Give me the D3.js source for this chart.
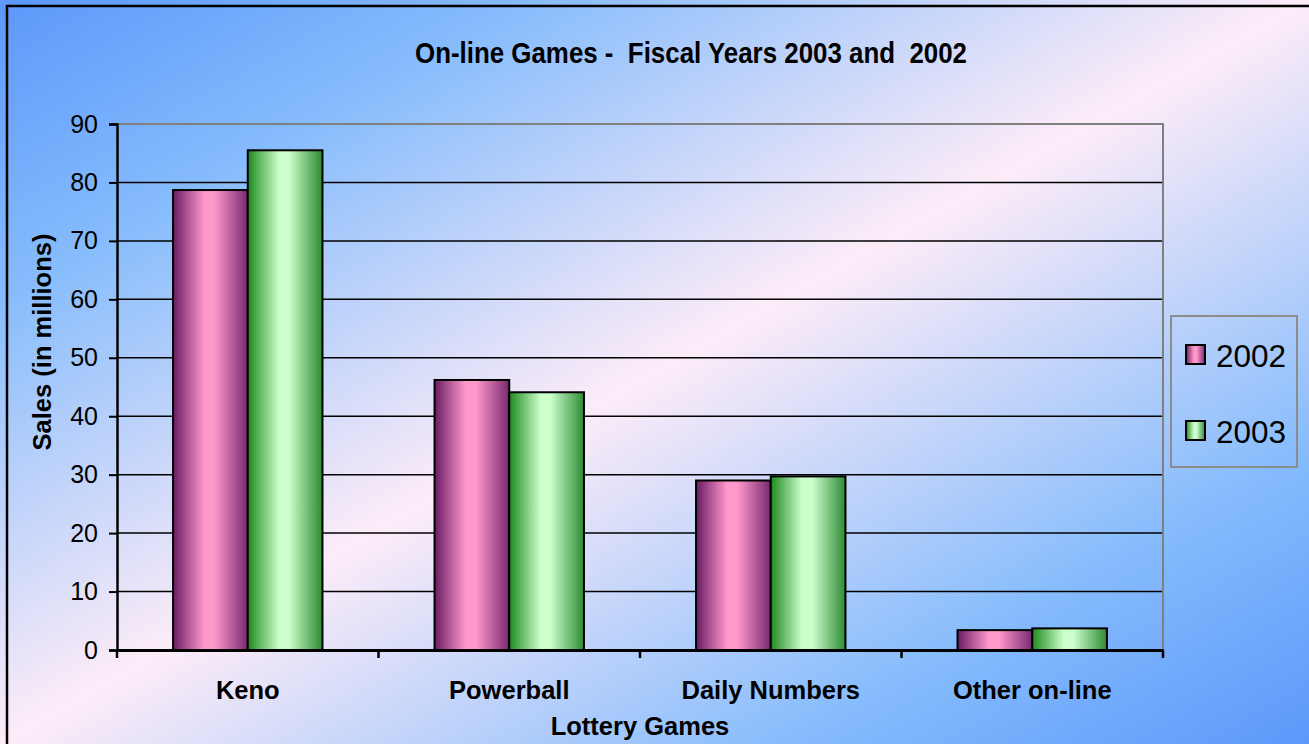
<!DOCTYPE html>
<html>
<head>
<meta charset="utf-8">
<script src="https://cdn.jsdelivr.net/npm/d3@7"></script>
<style>
  body { margin: 0; overflow: hidden; }
  svg { display: block; font-family: "Liberation Sans", Arial, sans-serif; }
</style>
</head>
<body>
<svg width="1309" height="744"></svg>
<script>
const categories = ['Keno', 'Powerball', 'Daily Numbers', 'Other on-line'];
const years = ['2002', '2003'];
const sales2002 = [78.7, 46.2, 29.0, 3.4];
const sales2003 = [85.5, 44.1, 29.7, 3.7];
const yTicks = [0, 10, 20, 30, 40, 50, 60, 70, 80, 90];

const svg = d3.select('svg');
const defs = svg.append('defs');

// background gradient: blue corners, pink diagonal band
const bg = defs.append('linearGradient').attr('id', 'bg')
    .attr('x1', 0).attr('y1', 0).attr('x2', 1).attr('y2', 1);
[[0, '#5c98fa'], [0.2, '#86bcfc'], [0.5, '#fdecf8'], [0.8, '#86bcfc'], [1, '#5c98fa']]
    .forEach(s => bg.append('stop').attr('offset', s[0]).attr('stop-color', s[1]));

function barGrad(id, edgeL, mid, edgeR) {
    const g = defs.append('linearGradient').attr('id', id)
        .attr('x1', 0).attr('y1', 0).attr('x2', 1).attr('y2', 0);
    g.append('stop').attr('offset', 0).attr('stop-color', edgeL);
    g.append('stop').attr('offset', 0.42).attr('stop-color', mid);
    g.append('stop').attr('offset', 0.55).attr('stop-color', mid);
    g.append('stop').attr('offset', 1).attr('stop-color', edgeR);
}
barGrad('g2002', '#6a1b63', '#ff99cc', '#7a2870');
barGrad('g2003', '#1e8a1e', '#ccffcc', '#2e8b34');

svg.append('rect').attr('x', 0).attr('y', 0).attr('width', 1309).attr('height', 744)
    .attr('fill', 'url(#bg)');
svg.append('rect').attr('x', 7).attr('y', 6).attr('width', 1320).attr('height', 760)
    .attr('fill', 'none').attr('stroke', '#000').attr('stroke-width', 2.5);

const plotLeft = 117, plotRight = 1163, plotTop = 124, plotBottom = 650;

const x = d3.scaleBand().domain(categories).range([plotLeft, plotRight]);
const xSub = d3.scaleBand().domain(years).range([0, x.bandwidth()])
    .paddingInner(0).paddingOuter(0.75);
const y = d3.scaleLinear().domain([0, 90]).range([plotBottom, plotTop]);

// grid
svg.append('g').selectAll('line').data(yTicks.filter(d => d > 0 && d < 90))
    .enter().append('line')
    .attr('x1', plotLeft).attr('x2', plotRight)
    .attr('y1', d => y(d)).attr('y2', d => y(d))
    .attr('stroke', '#000').attr('stroke-width', 1.5);

// plot border top / right
svg.append('path')
    .attr('d', `M${plotLeft},${plotTop}H${plotRight}V${plotBottom}`)
    .attr('fill', 'none').attr('stroke', '#808080').attr('stroke-width', 2);

// bars
const series = [
    { year: '2002', values: sales2002 },
    { year: '2003', values: sales2003 }
];
series.forEach(s => {
    svg.append('g').selectAll('rect').data(categories)
        .enter().append('rect')
        .attr('x', (c) => x(c) + xSub(s.year))
        .attr('y', (c, i) => y(s.values[i]))
        .attr('width', xSub.bandwidth())
        .attr('height', (c, i) => plotBottom - y(s.values[i]))
        .attr('fill', `url(#g${s.year})`)
        .attr('stroke', '#000').attr('stroke-width', 2);
});

// y axis
const yAxis = svg.append('g').attr('transform', `translate(${plotLeft},0)`)
    .call(d3.axisLeft(y).tickValues(yTicks).tickSize(8).tickPadding(11));
yAxis.select('.domain').attr('stroke', '#000').attr('stroke-width', 2.5);
yAxis.selectAll('.tick line').attr('stroke', '#000').attr('stroke-width', 2);
yAxis.selectAll('.tick text').attr('font-size', 25).attr('fill', '#000')
    .attr('font-family', '"Liberation Sans", Arial, sans-serif');

// x axis
const xAxis = svg.append('g').attr('transform', `translate(0,${plotBottom})`)
    .call(d3.axisBottom(x).tickSize(0).tickPadding(31));
xAxis.select('.domain').attr('stroke', '#000').attr('stroke-width', 3);
xAxis.selectAll('.tick text').attr('font-size', 25.5).attr('font-weight', 'bold')
    .attr('fill', '#000').attr('font-family', '"Liberation Sans", Arial, sans-serif');
svg.append('g').selectAll('line')
    .data(categories.map(c => x(c)).concat([plotRight]))
    .enter().append('line')
    .attr('x1', d => d).attr('x2', d => d)
    .attr('y1', plotBottom).attr('y2', plotBottom + 8)
    .attr('stroke', '#000').attr('stroke-width', 2.5);

// titles
svg.append('text')
    .attr('x', 691).attr('y', 63)
    .attr('text-anchor', 'middle')
    .attr('font-size', 30).attr('font-weight', 'bold')
    .attr('textLength', 552).attr('lengthAdjust', 'spacingAndGlyphs')
    .style('white-space', 'pre')
    .text('On-line Games -  Fiscal Years 2003 and  2002');

svg.append('text')
    .attr('x', (plotLeft + plotRight) / 2).attr('y', 735)
    .attr('text-anchor', 'middle')
    .attr('font-size', 25.5).attr('font-weight', 'bold')
    .text('Lottery Games');

svg.append('text')
    .attr('transform', `translate(51,${(plotTop + plotBottom) / 2 - 45}) rotate(-90)`)
    .attr('text-anchor', 'middle')
    .attr('font-size', 25.5).attr('font-weight', 'bold')
    .text('Sales (in millions)');

// legend
const legend = svg.append('g');
legend.append('rect')
    .attr('x', 1171).attr('y', 316).attr('width', 126).attr('height', 151)
    .attr('fill', 'none').attr('stroke', '#8c8c8c').attr('stroke-width', 2);
const items = legend.selectAll('g.item').data(years).enter().append('g')
    .attr('class', 'item')
    .attr('transform', (d, i) => `translate(1186,${345 + i * 76})`);
items.append('rect')
    .attr('width', 19).attr('height', 19)
    .attr('fill', d => `url(#g${d})`)
    .attr('stroke', '#000').attr('stroke-width', 2);
items.append('text')
    .attr('x', 30).attr('y', 22)
    .attr('font-size', 31.5)
    .text(d => d);
</script>
</body>
</html>
